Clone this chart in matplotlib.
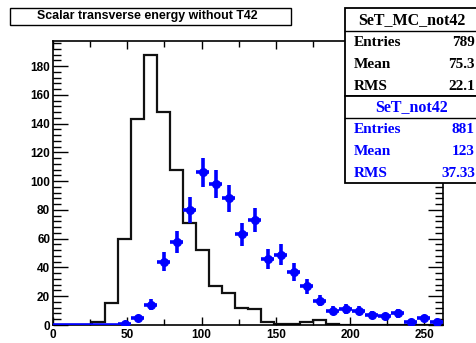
import numpy as np
import matplotlib
matplotlib.use("Agg")
import matplotlib.pyplot as plt
from matplotlib.patches import Rectangle
from matplotlib.ticker import MultipleLocator

# ---- data ----
bin_edges = np.linspace(0, 262.5, 31)
mc_counts = [0, 0, 0, 2, 15, 60, 143, 188, 148, 108, 71, 52, 27, 22, 12, 11,
             2, 1, 0.5, 2, 3.3, 1, 0, 0, 0, 0, 0, 0, 0, 0]
data_counts = [0, 0, 0, 0, 0, 1, 5, 14, 44, 58, 80, 106, 98, 88, 63, 73,
               46, 49, 37, 27, 17, 10, 11, 10, 7, 6, 8, 2, 5, 2]
x_ticks = [0, 50, 100, 150, 200, 250]
y_ticks = [0, 20, 40, 60, 80, 100, 120, 140, 160, 180]
title = "Scalar transverse energy without T42"
mc_stats = ("SeT_MC_not42", [("Entries", "789"), ("Mean", "75.3"), ("RMS", "22.1")])
data_stats = ("SeT_not42", [("Entries", "881"), ("Mean", "123"), ("RMS", "37.33")])

W, H = 477, 343
fig = plt.figure(figsize=(W / 100, H / 100), dpi=100)
ax = fig.add_axes([53 / W, 1 - 325 / H, 390 / W, (325 - 41) / H])

centers = 0.5 * (bin_edges[:-1] + bin_edges[1:])
half = 0.5 * np.diff(bin_edges)
mc = np.array(mc_counts, dtype=float)
dat = np.array(data_counts, dtype=float)

ax.stairs(mc, bin_edges, color="#111111", lw=1.6, zorder=2)
blue = "#0000ff"
ax.errorbar(centers, dat, xerr=half, yerr=np.sqrt(dat), fmt="none",
            ecolor=blue, elinewidth=2.6, capsize=0, zorder=3, clip_on=True)
nz = dat > 0
ax.plot(centers[nz], dat[nz], "o", color=blue, ms=5.5, zorder=4)

ax.set_xlim(0, 262.5)
ax.set_ylim(0, 197.4)
ax.set_xticks(x_ticks)
ax.set_yticks(y_ticks)
ax.xaxis.set_minor_locator(MultipleLocator(25))
ax.yaxis.set_minor_locator(MultipleLocator(4))
ax.tick_params(which="both", direction="in", top=True, right=True, width=1.0)
ax.tick_params(axis="x", which="major", length=6, pad=3)
ax.tick_params(axis="x", which="minor", length=4)
ax.tick_params(axis="y", which="major", length=11, pad=2)
ax.tick_params(axis="y", which="minor", length=6)
for lab in ax.get_xticklabels() + ax.get_yticklabels():
    lab.set_fontfamily("Liberation Sans")
    lab.set_fontweight("bold")
    lab.set_fontsize(8.5)
for s in ax.spines.values():
    s.set_linewidth(1.2)

def fx(px):
    return px / W

def fy(py):
    return 1 - py / H

# title box
fig.patches.append(Rectangle((fx(10), fy(25)), fx(281), 17 / H, transform=fig.transFigure,
                             fill=True, facecolor="white", edgecolor="black", lw=1.0))
fig.text(fx(147), fy(16.5), title, ha="center", va="center", fontsize=8.9,
         fontweight="bold", family="Liberation Sans")

# stats boxes
def stats_box(top, bottom, sep, header, rows, color):
    fig.patches.append(Rectangle((fx(345), fy(bottom)), fx(200), (bottom - top) / H,
                                 transform=fig.transFigure, facecolor="white",
                                 edgecolor="black", lw=1.3, zorder=5))
    fig.lines.append(plt.Line2D([fx(345), 1.0], [fy(sep), fy(sep)],
                                transform=fig.transFigure, color="black", lw=1.0, zorder=6))
    fig.text(fx(412), fy((top + sep) / 2 + 0.5), header, ha="center", va="center",
             fontsize=11.5, fontweight="bold", family="Liberation Serif", color=color, zorder=7)
    n = len(rows)
    step = (bottom - sep) / n
    for i, (k, v) in enumerate(rows):
        yy = sep + step * (i + 0.5) + 1
        fig.text(fx(354), fy(yy), k, ha="left", va="center", fontsize=11,
                 fontweight="bold", family="Liberation Serif", color=color, zorder=7)
        fig.text(fx(475), fy(yy), v, ha="right", va="center", fontsize=11,
                 fontweight="bold", family="Liberation Serif", color=color, zorder=7)

stats_box(8, 96, 31, mc_stats[0], mc_stats[1], "black")
stats_box(96, 183, 118, data_stats[0], data_stats[1], blue)

fig.savefig("out.png", dpi=100)
